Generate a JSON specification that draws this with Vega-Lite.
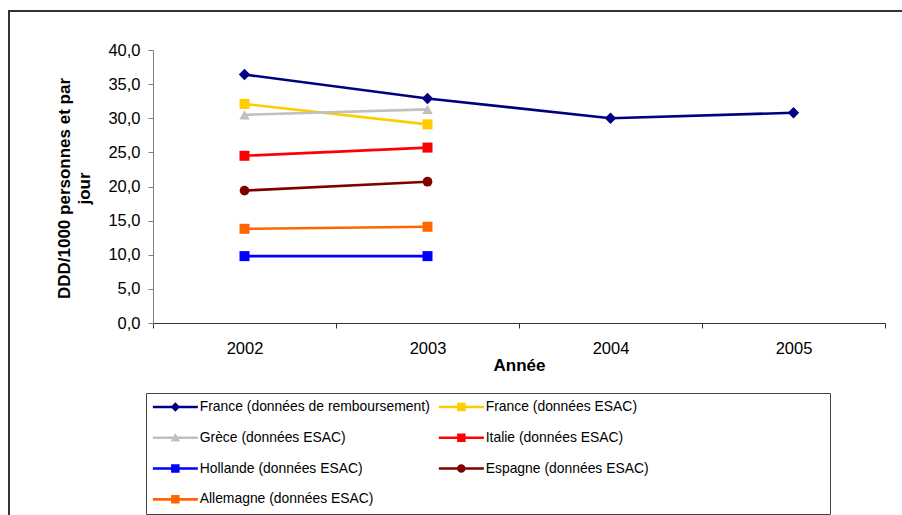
{
  "$schema": "https://vega.github.io/schema/vega-lite/v6.json",
  "width": 897,
  "height": 508,
  "autosize": {"type": "none"},
  "padding": {"left": 9, "top": 11, "right": -4, "bottom": -4},
  "background": "white",
  "config": {
    "font": "Liberation Sans",
    "view": {"stroke": "#333333", "strokeWidth": 2},
    "axis": {
      "labelFont": "Liberation Sans",
      "labelFontSize": 16.5,
      "labelColor": "#000000",
      "titleFont": "Liberation Sans",
      "titleColor": "#000000",
      "grid": false,
      "tickSize": 5
    }
  },
  "data": {
    "values": [
      {"serie": "France (données de remboursement)", "annee": "2002", "valeur": 36.4},
      {"serie": "France (données de remboursement)", "annee": "2003", "valeur": 32.9},
      {"serie": "France (données de remboursement)", "annee": "2004", "valeur": 30.0},
      {"serie": "France (données de remboursement)", "annee": "2005", "valeur": 30.8},
      {"serie": "France (données ESAC)", "annee": "2002", "valeur": 32.1},
      {"serie": "France (données ESAC)", "annee": "2003", "valeur": 29.1},
      {"serie": "Grèce (données ESAC)", "annee": "2002", "valeur": 30.5},
      {"serie": "Grèce (données ESAC)", "annee": "2003", "valeur": 31.3},
      {"serie": "Italie (données ESAC)", "annee": "2002", "valeur": 24.5},
      {"serie": "Italie (données ESAC)", "annee": "2003", "valeur": 25.7},
      {"serie": "Hollande (données ESAC)", "annee": "2002", "valeur": 9.8},
      {"serie": "Hollande (données ESAC)", "annee": "2003", "valeur": 9.8},
      {"serie": "Espagne (données ESAC)", "annee": "2002", "valeur": 19.4},
      {"serie": "Espagne (données ESAC)", "annee": "2003", "valeur": 20.7},
      {"serie": "Allemagne (données ESAC)", "annee": "2002", "valeur": 13.8},
      {"serie": "Allemagne (données ESAC)", "annee": "2003", "valeur": 14.1}
    ]
  },
  "encoding": {
    "x": {
      "field": "annee",
      "type": "nominal",
      "sort": ["2002", "2003", "2004", "2005"],
      "scale": {"domain": ["2002", "2003", "2004", "2005"], "range": [144, 876], "paddingInner": 0, "paddingOuter": 0},
      "axis": {
        "orient": "bottom",
        "offset": -196,
        "tickBand": "extent",
        "labelAngle": 0,
        "labelPadding": 12,
        "domainColor": "#333333",
        "tickColor": "#333333",
        "title": "Année",
        "titleFontSize": 17,
        "titleFontWeight": "bold",
        "titlePadding": 1
      }
    },
    "y": {
      "field": "valeur",
      "type": "quantitative",
      "scale": {"domain": [0, 40], "range": [312, 39], "nice": false, "zero": true},
      "axis": {
        "orient": "left",
        "offset": -144,
        "values": [0, 5, 10, 15, 20, 25, 30, 35, 40],
        "labelExpr": "replace(format(datum.value, '.1f'), '.', ',')",
        "labelPadding": 8,
        "domainColor": "#808080",
        "tickColor": "#808080",
        "title": ["DDD/1000 personnes et par", "jour"],
        "titleFontSize": 17,
        "titleFontWeight": "bold",
        "titleAngle": 270,
        "titleAlign": "center",
        "titleBaseline": "middle",
        "titleLineHeight": 20,
        "titleX": -89,
        "titleY": 177
      }
    },
    "color": {
      "field": "serie",
      "type": "nominal",
      "scale": {
        "domain": [
          "France (données de remboursement)",
          "France (données ESAC)",
          "Grèce (données ESAC)",
          "Italie (données ESAC)",
          "Hollande (données ESAC)",
          "Espagne (données ESAC)",
          "Allemagne (données ESAC)"
        ],
        "range": ["#000080", "#FFCC00", "#C0C0C0", "#FF0000", "#0000FF", "#800000", "#FF6600"]
      },
      "legend": null
    }
  },
  "layer": [
    {
      "mark": {"type": "point", "filled": true, "opacity": 0, "size": 100},
      "encoding": {
        "color": {
          "field": "serie",
          "type": "nominal",
          "scale": {
            "domain": [
              "France (données de remboursement)",
              "France (données ESAC)",
              "Grèce (données ESAC)",
              "Italie (données ESAC)",
              "Hollande (données ESAC)",
              "Espagne (données ESAC)",
              "Allemagne (données ESAC)"
            ],
            "range": ["#000080", "#FFCC00", "#C0C0C0", "#FF0000", "#0000FF", "#800000", "#FF6600"]
          },
          "legend": {
            "orient": "none",
            "legendX": 137,
            "legendY": 382,
            "direction": "horizontal",
            "columns": 2,
            "title": "\u2800\u2800\u2800\u2800\u2800\u2800\u2800\u2800\u2800\u2800\u2800\u2800\u2800\u2800\u2800\u2800\u2800\u2800\u2800\u2800\u2800",
            "titleOrient": "right",
            "titleFontSize": 14,
            "titleColor": "#FFFFFF",
            "titlePadding": 0,
            "strokeColor": "#444444",
            "fillColor": "#FFFFFF",
            "padding": 7,
            "labelFont": "Liberation Sans",
            "labelFontSize": 13.9,
            "labelColor": "#000000",
            "labelOffset": 17.4,
            "labelLimit": 400,
            "symbolSize": 100,
            "symbolOffset": 15.4,
            "symbolStrokeWidth": 0,
            "symbolOpacity": 1,
            "rowPadding": 15.8,
            "columnPadding": 8
          }
        },
        "shape": {
          "field": "serie",
          "type": "nominal",
          "scale": {
            "domain": [
              "France (données de remboursement)",
              "France (données ESAC)",
              "Grèce (données ESAC)",
              "Italie (données ESAC)",
              "Hollande (données ESAC)",
              "Espagne (données ESAC)",
              "Allemagne (données ESAC)"
            ],
            "range": [
              "M-4.5,-0.26H4.5V0.26H-4.5Z M0,-0.95L0.95,0L0,0.95L-0.95,0Z",
              "M-4.5,-0.26H4.5V0.26H-4.5Z M-0.85,-0.85H0.85V0.85H-0.85Z",
              "M-4.5,-0.26H4.5V0.26H-4.5Z M0,-0.95L0.95,0.75H-0.95Z",
              "M-4.5,-0.26H4.5V0.26H-4.5Z M-0.85,-0.85H0.85V0.85H-0.85Z",
              "M-4.5,-0.26H4.5V0.26H-4.5Z M-0.85,-0.85H0.85V0.85H-0.85Z",
              "M-4.5,-0.26H4.5V0.26H-4.5Z M-0.85,0A0.85,0.85 0 1,1 0.85,0A0.85,0.85 0 1,1 -0.85,0Z",
              "M-4.5,-0.26H4.5V0.26H-4.5Z M-0.85,-0.85H0.85V0.85H-0.85Z"
            ]
          },
          "legend": null
        }
      }
    },
    {
      "mark": {"type": "line", "strokeWidth": 2.6}
    },
    {
      "transform": [{"filter": "datum.serie === 'France (données de remboursement)'"}],
      "mark": {"type": "point", "shape": "diamond", "filled": true, "opacity": 1, "size": 130}
    },
    {
      "transform": [{"filter": "datum.serie === 'Grèce (données ESAC)'"}],
      "mark": {"type": "point", "shape": "triangle-up", "filled": true, "opacity": 1, "size": 110}
    },
    {
      "transform": [{"filter": "datum.serie === 'Espagne (données ESAC)'"}],
      "mark": {"type": "point", "shape": "circle", "filled": true, "opacity": 1, "size": 95}
    },
    {
      "transform": [{"filter": "datum.serie !== 'France (données de remboursement)' && datum.serie !== 'Grèce (données ESAC)' && datum.serie !== 'Espagne (données ESAC)'"}],
      "mark": {"type": "point", "shape": "square", "filled": true, "opacity": 1, "size": 100}
    }
  ]
}
